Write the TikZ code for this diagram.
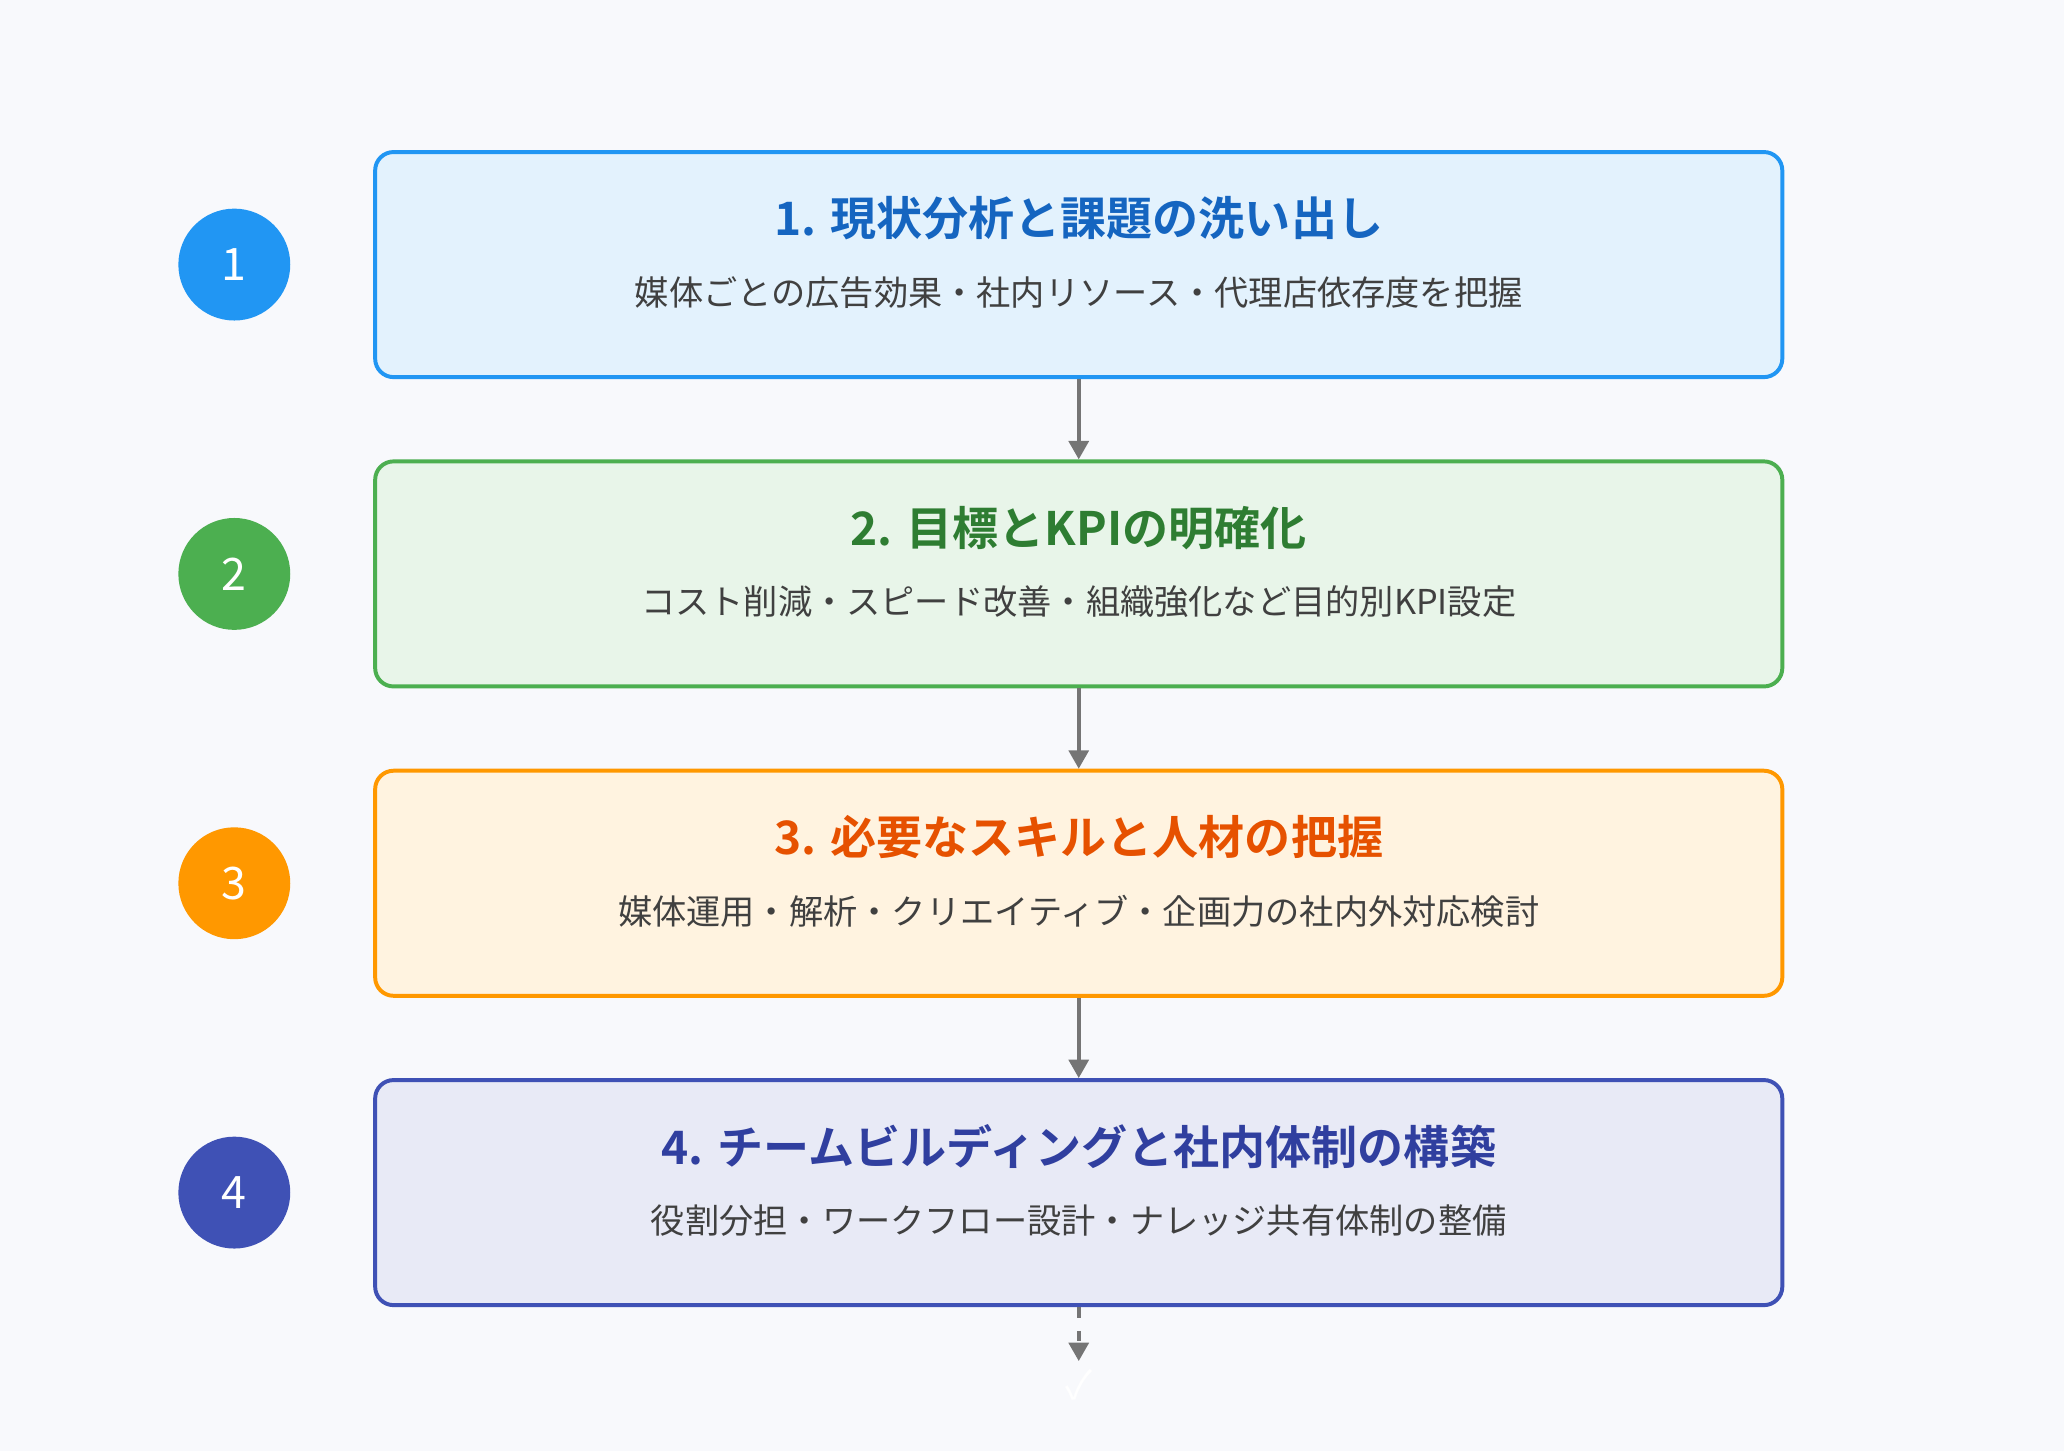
\documentclass[tikz,border=0pt]{standalone}
\usepackage{fontspec}
\newfontfamily\cjk{Noto Sans CJK JP}
\newfontfamily\cjkb{Noto Sans CJK JP Bold}
\usetikzlibrary{arrows.meta}
\definecolor{bg}{HTML}{F8F9FC}
\definecolor{fa}{HTML}{E3F2FD}\definecolor{ba}{HTML}{2196F3}\definecolor{ta}{HTML}{1565C0}
\definecolor{fb}{HTML}{E8F5E9}\definecolor{bb}{HTML}{4CAF50}\definecolor{tb}{HTML}{2E7D32}
\definecolor{fc}{HTML}{FFF3E0}\definecolor{bc}{HTML}{FF9800}\definecolor{tc}{HTML}{E65100}
\definecolor{fd}{HTML}{E8EAF6}\definecolor{bd}{HTML}{3F51B5}\definecolor{td}{HTML}{303F9F}
\definecolor{arr}{HTML}{757575}
\begin{document}
\begin{tikzpicture}[x=1pt,y=-1pt,
  stepbox/.style={draw, line width=3pt, rounded corners=14pt, minimum width=1069pt, minimum height=171pt},
  numc/.style={circle, minimum size=85pt, inner sep=0pt, text=white, font=\fontsize{34}{34}\selectfont\cjk},
  ttl/.style={font=\fontsize{35}{40}\selectfont\cjkb},
  sub/.style={font=\fontsize{26}{30}\selectfont\cjk, text=black!75},
  conn/.style={draw=arr, line width=3pt, -{Triangle[width=15pt,length=14pt]}}]
\fill[bg] (0,0) rectangle (1568,1102);
\useasboundingbox (0,0) rectangle (1568,1102);
\foreach \i/\y/\f/\b/\t/\tl/\sb in {
 1/201/fa/ba/ta/{1. 現状分析と課題の洗い出し}/{媒体ごとの広告効果・社内リソース・代理店依存度を把握},
 2/436/fb/bb/tb/{2. 目標とKPIの明確化}/{コスト削減・スピード改善・組織強化など目的別KPI設定},
 3/671/fc/bc/tc/{3. 必要なスキルと人材の把握}/{媒体運用・解析・クリエイティブ・企画力の社内外対応検討},
 4/906/fd/bd/td/{4. チームビルディングと社内体制の構築}/{役割分担・ワークフロー設計・ナレッジ共有体制の整備}}{
  \node[stepbox, draw=\b, fill=\f] (box\i) at (819.5,\y) {};
  \node[ttl, text=\t] (t\i) at (819.5,\y-35) {\tl};
  \node[sub] (s\i) at (819.5,\y+21) {\sb};
  \node[numc, fill=\b] (c\i) at (178,\y) {\i};
}
\draw[conn] (box1.south) -- (box2.north);
\draw[conn] (box2.south) -- (box3.north);
\draw[conn] (box3.south) -- (box4.north);
\coordinate (end) at (819.5,1034);
\draw[conn, dash pattern=on 8pt off 10pt] (box4.south) -- (end);
\node[text=white, font=\fontsize{30}{30}\selectfont\cjk] (chk) at (819.5,1052) {✓};
\end{tikzpicture}
\end{document}
